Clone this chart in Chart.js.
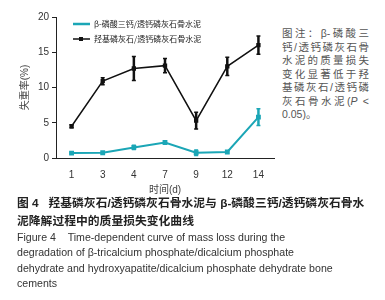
<!DOCTYPE html>
<html>
<head>
<meta charset="utf-8">
<script src="https://cdn.jsdelivr.net/npm/chart.js@4"></script>
<style>
  body { margin: 0; width: 385px; height: 300px; background: #fff; position: relative; overflow: hidden;
         font-family: "Liberation Sans", "Noto Sans CJK SC", sans-serif; }
  #wrap { position: absolute; left: 0; top: 0; width: 280px; height: 200px; }
  .note { position: absolute; left: 282px; top: 27px; width: 87px; color: #555; font-size: 10.5px; line-height: 13.5px; }
  .note div { text-align: justify; text-align-last: justify; white-space: nowrap; }
  .cap { position: absolute; left: 17px; top: 194px; width: 368px; }
  .cap .zh { font-size: 11.8px; line-height: 18px; font-weight: bold; color: #222; }
  .cap .en { font-size: 10.6px; line-height: 15.3px; color: #333; }
</style>
</head>
<body>
<div id="wrap"><canvas id="lossChart" width="280" height="200"></canvas></div>
<div class="note">
  <div>图注：β-磷酸三</div>
  <div>钙/透钙磷灰石骨</div>
  <div>水泥的质量损失</div>
  <div>变化显著低于羟</div>
  <div>基磷灰石/透钙磷</div>
  <div>灰石骨水泥(<i>P</i> &lt;</div>
  <div style="text-align-last:left">0.05)。</div>
</div>
<div class="cap">
  <div class="zh">图 4&nbsp;&nbsp;&nbsp;羟基磷灰石/透钙磷灰石骨水泥与 β-磷酸三钙/透钙磷灰石骨水<br>泥降解过程中的质量损失变化曲线</div>
  <div class="en">Figure 4&nbsp;&nbsp;&nbsp;&nbsp;Time-dependent curve of mass loss during the<br>degradation of β-tricalcium phosphate/dicalcium phosphate<br>dehydrate and hydroxyapatite/dicalcium phosphate dehydrate bone<br>cements</div>
</div>
<script>
const days = ['1', '3', '4', '7', '9', '12', '14'];
const tcpValues = [0.7, 0.75, 1.5, 2.2, 0.75, 0.85, 5.8];
const tcpErrors = [0.1, 0.15, 0.3, 0.15, 0.4, 0.15, 1.2];
const haValues = [4.5, 10.9, 12.7, 13.1, 5.3, 13.0, 16.0];
const haErrors = [0.2, 0.5, 1.7, 1.0, 1.2, 1.3, 1.3];
const yTicks = [0, 5, 10, 15, 20];

const tcpColor = '#1ba6b6';
const haColor = '#111111';

// legend icons: plain line for TCP, line with square marker for HA
function legendIcon(color, withMarker) {
  const c = document.createElement('canvas');
  c.width = 17; c.height = 6;
  const g = c.getContext('2d');
  g.strokeStyle = color;
  g.lineWidth = withMarker ? 1.5 : 2.5;
  g.beginPath(); g.moveTo(0, 3); g.lineTo(17, 3); g.stroke();
  if (withMarker) { g.fillStyle = color; g.fillRect(6, 1, 4, 4); }
  return c;
}

const errorBars = {
  id: 'errorBars',
  afterDatasetsDraw(chart) {
    const ctx = chart.ctx;
    const yScale = chart.scales.y;
    chart.data.datasets.forEach((ds, di) => {
      const meta = chart.getDatasetMeta(di);
      ctx.save();
      ctx.strokeStyle = ds.borderColor;
      meta.data.forEach((pt, i) => {
        const err = ds.errors[i];
        const v = ds.data[i];
        const top = yScale.getPixelForValue(v + err);
        const bot = yScale.getPixelForValue(v - err);
        ctx.lineWidth = 2.5;
        ctx.beginPath(); ctx.moveTo(pt.x, top); ctx.lineTo(pt.x, bot); ctx.stroke();
        ctx.lineWidth = 1.5;
        ctx.beginPath();
        ctx.moveTo(pt.x - 2, top); ctx.lineTo(pt.x + 2, top);
        ctx.moveTo(pt.x - 2, bot); ctx.lineTo(pt.x + 2, bot);
        ctx.stroke();
      });
      ctx.restore();
    });
  }
};

// the chartArea legend sits at the top-left corner; nudge it inward
const legendPlace = {
  id: 'legendPlace',
  beforeDraw(chart) {
    chart.legend.left = chart.chartArea.left + 10;
    chart.legend.top = 13;
  }
};

new Chart(document.getElementById('lossChart'), {
  type: 'line',
  data: {
    labels: days,
    datasets: [
      {
        label: 'β-磷酸三钙/透钙磷灰石骨水泥',
        data: tcpValues,
        errors: tcpErrors,
        borderColor: tcpColor,
        backgroundColor: tcpColor,
        borderWidth: 2,
        pointStyle: 'rect',
        pointRadius: 2,
        tension: 0,
      },
      {
        label: '羟基磷灰石/透钙磷灰石骨水泥',
        data: haValues,
        errors: haErrors,
        borderColor: haColor,
        backgroundColor: haColor,
        borderWidth: 1.5,
        pointStyle: 'rect',
        pointRadius: 2,
        tension: 0,
      },
    ],
  },
  options: {
    responsive: false,
    animation: false,
    layout: { padding: { left: 16, top: 17, right: 2, bottom: 2 } },
    plugins: {
      tooltip: { enabled: false },
      legend: {
        position: 'chartArea',
        align: 'start',
        labels: {
          usePointStyle: true,
          pointStyleWidth: 17,
          padding: 7,
          color: '#222',
          font: { size: 8, family: '"Noto Sans CJK SC", sans-serif' },
          generateLabels: (chart) =>
            chart.data.datasets.map((ds, i) => ({
              text: ds.label,
              pointStyle: legendIcon(ds.borderColor, i === 1),
              fillStyle: ds.borderColor,
              strokeStyle: ds.borderColor,
              lineWidth: 0,
              fontColor: '#222',
              datasetIndex: i,
            })),
        },
      },
    },
    scales: {
      x: {
        offset: true,
        afterFit: (s) => { s.height = 40; },
        grid: { display: false },
        border: { display: true, color: '#222', width: 1 },
        ticks: { color: '#333', padding: 3, font: { size: 10, family: '"Liberation Sans", sans-serif' } },
        title: {
          display: true,
          text: '时间(d)',
          color: '#444',
          padding: { top: 2, bottom: 2 },
          font: { size: 10, family: '"Liberation Sans", "Noto Sans CJK SC", sans-serif' },
        },
      },
      y: {
        min: 0,
        max: 20,
        afterFit: (s) => { s.width = 40; },
        afterBuildTicks: (s) => { s.ticks = yTicks.map((v) => ({ value: v })); },
        grid: { drawOnChartArea: false, tickLength: 4, color: '#222' },
        border: { display: true, color: '#222', width: 1 },
        ticks: { color: '#333', padding: 3, font: { size: 10, family: '"Liberation Sans", sans-serif' } },
        title: {
          display: true,
          text: '失重率(%)',
          color: '#444',
          padding: { top: 3, bottom: 3 },
          font: { size: 10, family: '"Liberation Sans", "Noto Sans CJK SC", sans-serif' },
        },
      },
    },
  },
  plugins: [errorBars, legendPlace],
});
</script>
</body>
</html>
